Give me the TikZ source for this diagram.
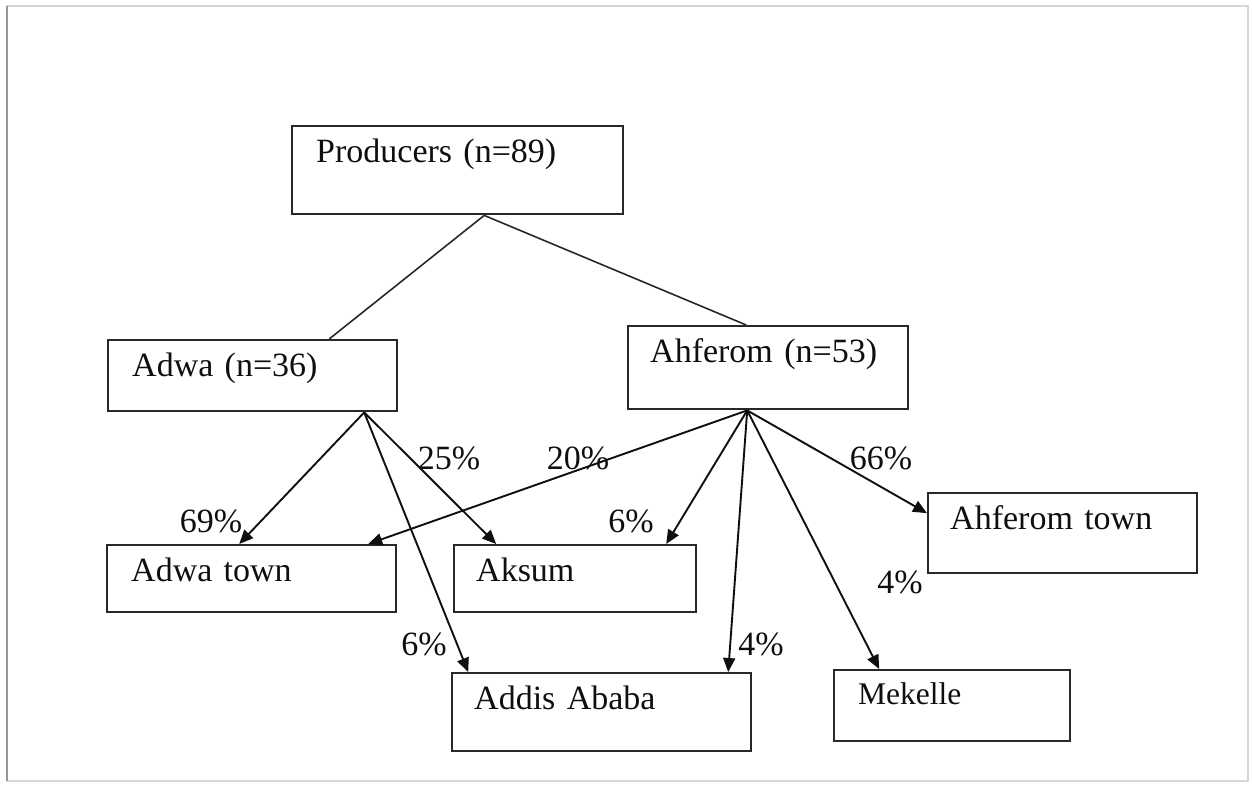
\documentclass[tikz,border=0pt]{standalone}
\usepackage{fontspec}
\setmainfont{Liberation Serif}
\usetikzlibrary{positioning,arrows.meta}
\definecolor{ink}{RGB}{15,15,15}
\definecolor{boxline}{RGB}{40,40,40}
\definecolor{framegray}{RGB}{214,214,214}
\definecolor{frameshade}{RGB}{150,150,150}
\tikzset{
  box/.style={draw=boxline, anchor=north west, align=left, inner xsep=24pt,
    inner ysep=0pt, text height=36pt, font=\fontsize{34}{40}\selectfont, text=ink,
    line width=2.4pt},
  pct/.style={font=\fontsize{34}{40}\selectfont, text=ink, inner sep=0pt},
  flow/.style={-{Triangle[length=14pt,width=12pt]}, line width=1.9pt, draw=ink},
  edge/.style={line width=1.6pt, draw=boxline},
}
\begin{document}
\begin{tikzpicture}[x=1pt,y=-1pt]
\useasboundingbox (0,0) rectangle (1252,784);
% page frame
\draw[framegray, line width=2pt] (7,6) rectangle (1248,781);
\draw[frameshade, line width=2pt] (7,6) -- (7,781);
% boxes
\node[box, text width=283pt, text depth=52pt] (prod) at (291,125) {Producers (n=89)};
\node[box, text width=241pt, text depth=35pt] (adwa) at (107,339) {Adwa (n=36)};
\node[box, text width=236pt, text depth=47pt, inner xsep=22pt] (ahf) at (627,325) {Ahferom (n=53)};
\node[box, text width=241pt, text depth=31pt] (adt) at (106,544) {Adwa town};
\node[box, text width=198pt, text depth=31pt, inner xsep=22pt] (aks) at (453,544) {Aksum};
\node[box, text width=225pt, text depth=44pt, inner xsep=22pt] (aht) at (927,492) {Ahferom town};
\node[box, text width=255pt, text depth=42pt, inner xsep=22pt] (add) at (451,672) {Addis Ababa};
\node[box, text width=188pt, text depth=37pt, text height=34pt,
  font=\fontsize{31.5}{37}\selectfont] (mek) at (833,669) {Mekelle};
% producers split
\draw[edge] ([xshift=26.5pt]prod.south) -- ([xshift=76.5pt]adwa.north);
\draw[edge] ([xshift=26.5pt]prod.south) -- ([xshift=-22pt]ahf.north);
% Adwa flows
\draw[flow] ([xshift=111.5pt]adwa.south) -- ([xshift=-12.5pt]adt.north);
\draw[flow] ([xshift=111.5pt]adwa.south) -- ([xshift=-133.5pt]add.north);
\draw[flow] ([xshift=111.5pt]adwa.south) -- ([xshift=-79pt]aks.north);
% Ahferom flows
\draw[flow] ([xshift=-21pt]ahf.south) -- ([xshift=116.5pt]adt.north);
\draw[flow] ([xshift=-21pt]ahf.south) -- ([xshift=91pt]aks.north);
\draw[flow] ([xshift=-21pt]ahf.south) -- ([xshift=126.5pt]add.north);
\draw[flow] ([xshift=-21pt]ahf.south) -- ([xshift=-73pt]mek.north);
\draw[flow] ([xshift=-21pt]ahf.south) -- ([yshift=20pt]aht.west);
% shares
\node[pct] (s69) at (211,521) {69\%};
\node[pct] (s25) at (449,458) {25\%};
\node[pct] (s6a) at (424,644) {6\%};
\node[pct] (s20) at (578,458) {20\%};
\node[pct] (s6b) at (631,521) {6\%};
\node[pct] (s66) at (881,458) {66\%};
\node[pct] (s4a) at (761,644) {4\%};
\node[pct] (s4b) at (900,582) {4\%};
\end{tikzpicture}
\end{document}
